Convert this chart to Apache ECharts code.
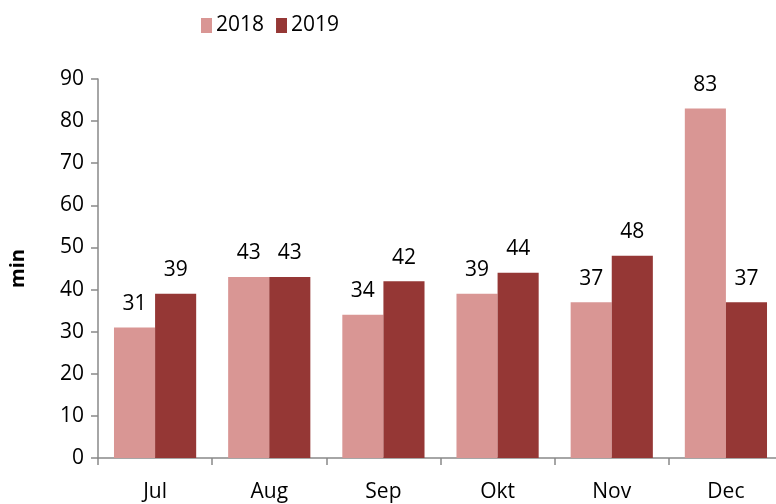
<!DOCTYPE html>
<html>
<head>
<meta charset="utf-8">
<script src="https://cdn.jsdelivr.net/npm/echarts@6/dist/echarts.min.js"></script>
<style>
  html, body { margin: 0; padding: 0; background: #fff; }
  #chart { width: 776px; height: 504px; }
</style>
</head>
<body>
<div id="chart"></div>
<script>
// values
const months = ["Jul", "Aug", "Sep", "Okt", "Nov", "Dec"]
const values2018 = [31, 43, 34, 39, 37, 83]
const values2019 = [39, 43, 42, 44, 48, 37]
const yTicks = [0, 10, 20, 30, 40, 50, 60, 70, 80, 90]

const font = "'Open Sans', 'Liberation Sans', sans-serif"

const chart = echarts.init(document.getElementById("chart"))

const barLabel = {
  show: true,
  position: "top",
  distance: 13,
  color: "#000",
  fontSize: 21,
  fontFamily: font,
}

const option = {
  animation: false,
  legend: {
    data: ["2018", "2019"],
    left: 196,
    top: 10,
    itemWidth: 11,
    itemHeight: 15,
    itemGap: 12,
    icon: "rect",
    textStyle: {
      color: "#000",
      fontSize: 21,
      fontFamily: font,
      padding: [0, 0, 0, -1],
    },
  },
  grid: {
    left: 98,
    width: 685,
    top: 79,
    bottom: 46,
    outerBoundsMode: "none",
  },
  xAxis: {
    type: "category",
    data: months,
    axisLine: { lineStyle: { color: "#898989", width: 1.5 } },
    axisTick: { show: true, length: 7, alignWithLabel: false, lineStyle: { color: "#898989", width: 1.5 } },
    axisLabel: { color: "#000", fontSize: 21, fontFamily: font, margin: 24 },
  },
  yAxis: {
    type: "value",
    min: yTicks[0],
    max: yTicks[yTicks.length - 1],
    interval: 10,
    name: "min",
    nameLocation: "middle",
    nameGap: 70,
    nameTextStyle: { color: "#000", fontSize: 20, fontWeight: "bold", fontFamily: font },
    axisLine: { show: true, lineStyle: { color: "#898989", width: 1.5 } },
    axisTick: { show: true, length: 7, lineStyle: { color: "#898989", width: 1.5 } },
    axisLabel: { color: "#000", fontSize: 21, fontFamily: font, margin: 14 },
    splitLine: { show: false },
  },
  series: [
    {
      name: "2018",
      type: "bar",
      data: values2018,
      barGap: "0%",
      barCategoryGap: "28%",
      itemStyle: { color: "#D99694" },
      label: barLabel,
    },
    {
      name: "2019",
      type: "bar",
      data: values2019,
      itemStyle: { color: "#953735" },
      label: barLabel,
    },
  ],
}

chart.setOption(option)
</script>
</body>
</html>
